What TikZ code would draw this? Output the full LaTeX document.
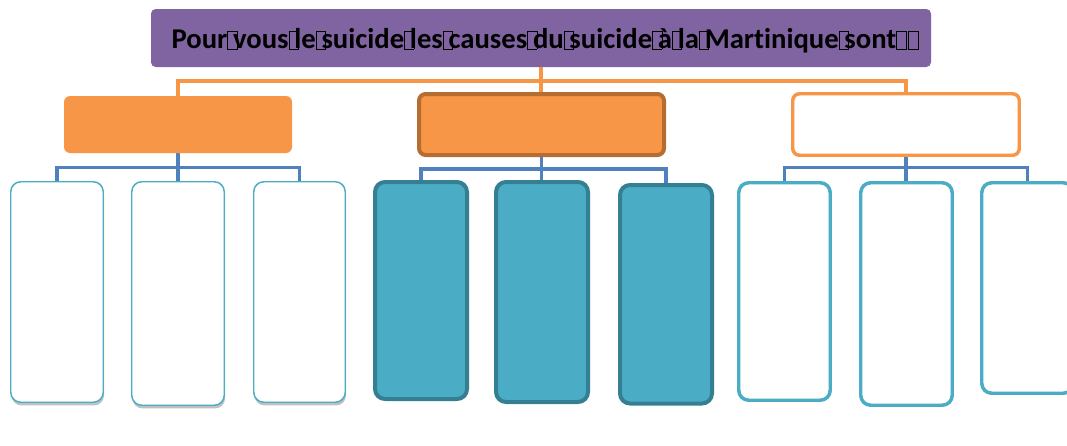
\documentclass[tikz,border=0pt]{standalone}
\usepackage{fontspec}
\setmainfont[Ligatures=NoCommon]{Carlito}
\usetikzlibrary{shadows}
\definecolor{purp}{HTML}{8064A2}
\definecolor{orng}{HTML}{F79646}
\definecolor{dorng}{HTML}{B66D31}
\definecolor{blu}{HTML}{4F81BD}
\definecolor{tealA}{HTML}{4BACC6}
\definecolor{tealD}{HTML}{357F92}
\pgfdeclarelayer{bg}
\pgfsetlayers{bg,main}
\newcommand\mgbox{{\setlength\fboxsep{0pt}\setlength\fboxrule{0.6pt}\fbox{\rule{0pt}{0.6em}\hspace{0.3em}}}}
\newcommand\mg{\makebox[0.2em][l]{\mgbox}}
\newcommand\mgf{\makebox[0.42em][l]{\mgbox}}
\begin{document}
\begin{tikzpicture}[x=0.75pt,y=-0.75pt,
  sz/.style 2 args={minimum width=#1*0.75pt, minimum height=#2*0.75pt},
  base/.style={rectangle, inner sep=0pt, outer sep=0pt},
  titlebox/.style={base, fill=purp, rounded corners=3.5pt},
  midA/.style={base, fill=orng, rounded corners=4.5pt},
  midB/.style={base, fill=orng, draw=dorng, line width=3pt, rounded corners=5pt},
  midC/.style={base, fill=white, draw=orng, line width=2.6pt, rounded corners=5pt},
  leafW/.style={base, fill=white, draw=tealA, line width=1.1pt, rounded corners=7.5pt,
     drop shadow={shadow xshift=0.6pt, shadow yshift=-2.4pt, opacity=0.35, fill=black!70}},
  leafM/.style={base, fill=tealA, draw=tealD, line width=3pt, rounded corners=7.5pt},
  leafR/.style={base, fill=white, draw=tealA, line width=2.6pt, rounded corners=7.5pt},
  ocon/.style={draw=orng, line width=3pt},
  bcon/.style={draw=blu, line width=2.7pt}]
\useasboundingbox (0,0) rectangle (1067,446);

% title
\node[titlebox, sz={780}{58}] (title) at (541,38) {};
\node[anchor=base, inner sep=0pt] (titletext) at (546,48.5)
  {\fontsize{21.5}{24}\selectfont\bfseries Pour\mg vous\mg le\mg suicide\mg les\mg causes\mg du\mg suicide\mg à\mg la\mg Martinique\mg sont\mgf\mgf};

% level 2
\node[midA, sz={228}{57}] (l2a) at (178,124.5) {};
\node[midB, sz={245}{61}] (l2b) at (541.5,124.5) {};
\node[midC, sz={226.5}{61.5}] (l2c) at (906,124.5) {};

% leaves
\node[leafW, sz={92.5}{220.5}] (c1) at (57,292) {};
\node[leafW, sz={92.5}{223.5}] (c2) at (178,293.5) {};
\node[leafW, sz={91.5}{220.5}] (c3) at (299.5,292) {};
\node[leafM, sz={92}{217}] (c4) at (421,290.5) {};
\node[leafM, sz={92}{220}] (c5) at (542,292) {};
\node[leafM, sz={92}{218.5}] (c6) at (666,294.25) {};
\node[leafR, sz={91.5}{217.5}] (c7) at (784.5,291.5) {};
\node[leafR, sz={91.5}{222.5}] (c8) at (906.5,294) {};
\node[leafR, sz={91.5}{210.5}] (c9) at (1027.5,288) {};

\coordinate (obus) at (541,81);
\coordinate (bbA) at (178,167.6);
\coordinate (bbB) at (541.5,169);
\coordinate (bbC) at (906,167.6);

\begin{pgfonlayer}{bg}
\draw[ocon] (l2a.north) |- (obus) -| (l2c.north);
\draw[ocon] (title.south) -- (title.south |- l2b.north);
\draw[bcon] (c1.north) |- (bbA) -| (c3.north);
\draw[bcon] (l2a.south) -- (c2.north);
\draw[bcon] (c4.north) |- (bbB) -| (c6.north);
\draw[bcon] (l2b.south) -- (l2b.south |- c5.north);
\draw[bcon] (c7.north) |- (bbC) -| (c9.north);
\draw[bcon] (l2c.south) -- (l2c.south |- c8.north);
\end{pgfonlayer}
\end{tikzpicture}
\end{document}
